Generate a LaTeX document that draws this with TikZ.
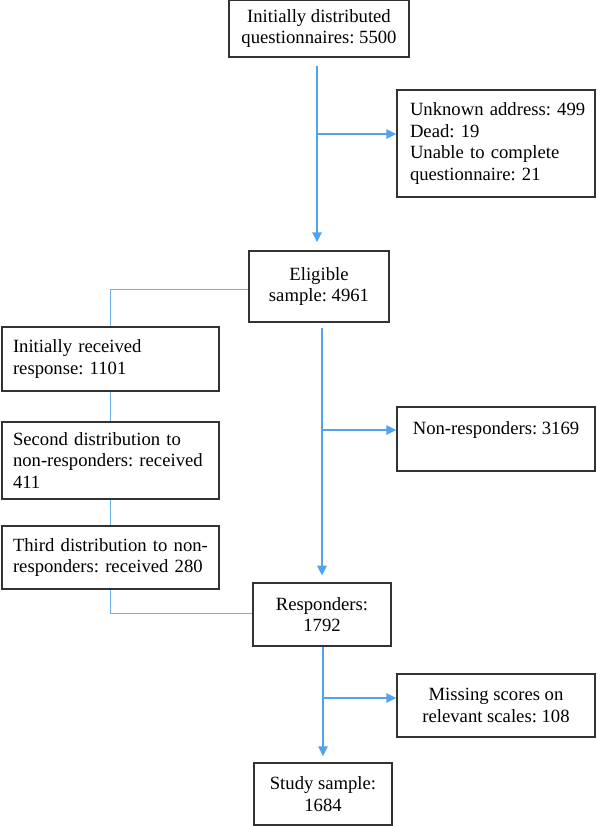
\documentclass[tikz,border=0pt]{standalone}
\usepackage{fontspec}
\setmainfont{Liberation Serif}
\usetikzlibrary{arrows.meta,calc}
\definecolor{arrblue}{RGB}{80,163,236}
\definecolor{lineblue}{RGB}{110,175,228}
\definecolor{boxgray}{RGB}{50,50,50}
\frenchspacing
\begin{document}
\frenchspacing
\begin{tikzpicture}[x=0.75pt,y=-0.75pt,
  box/.style={draw=boxgray,line width=1.1pt,font=\fontsize{14pt}{16.3pt}\selectfont,inner ysep=0pt},
  cbox/.style={box,align=center,inner xsep=2pt},
  lbox/.style={box,align=left,inner xsep=7.5pt,text width=#1},
  arr/.style={draw=arrblue,line width=1.6pt,-{Triangle[length=7.5pt,width=7pt]}},
  conn/.style={draw=lineblue,line width=0.8pt},
  ]
\useasboundingbox (0,0) rectangle (597,826);
% boxes
\node[cbox,minimum width=135pt,minimum height=42.75pt] (B1) at (319,28.5)
  {Initially distributed\\questionnaires: 5500};
\node[lbox=129pt,inner xsep=9.75pt,minimum width=148.5pt,minimum height=80.25pt] (Unk) at (496,143.5)
  {\mbox{Unknown address: 499}\\Dead: 19\\Unable to complete\\questionnaire: 21};
\node[cbox,minimum width=105pt,minimum height=53.25pt] (Elig) at (319,286.5)
  {Eligible\\sample: 4961};
\node[lbox=146.25pt,inner xsep=8.25pt,minimum width=162.75pt,minimum height=48pt] (Init) at (110.5,359)
  {Initially received\\response: 1101};
\node[lbox=146.25pt,inner xsep=8.25pt,minimum width=162.75pt,minimum height=57.75pt] (Sec) at (110.5,460.5)
  {Second distribution to\\non-responders: received\\411};
\node[lbox=146.25pt,inner xsep=8.25pt,minimum width=162.75pt,minimum height=47.25pt] (Third) at (110.5,557.5)
  {Third distribution to non-\\responders: received 280};
\node[cbox,minimum width=148.5pt,minimum height=48pt] (NonR) at (496,439)
  {Non-responders: 3169\\\mbox{}};
\node[cbox,minimum width=103.5pt,minimum height=47.25pt] (Resp) at (322,614.5)
  {Responders:\\1792};
\node[cbox,minimum width=148.5pt,minimum height=47.25pt] (Miss) at (496,705.5)
  {Missing scores on\\relevant scales: 108};
\node[cbox,minimum width=103.5pt,minimum height=46.5pt] (Study) at (323,794)
  {Study sample:\\1684};
% junction points
\coordinate (j1) at (317,134);
\coordinate (j2) at (322,430);
\coordinate (j3) at (323,698);
% main arrows
\draw[arr,shorten <=6pt,shorten >=6pt] ([xshift=-1.5pt]B1.south) -- ([xshift=-1.5pt]Elig.north);
\draw[arr] (j1) -- (j1 -| Unk.west);
\draw[arr,shorten <=4pt,shorten >=5pt] (Elig.south -| Resp.north) -- (Resp.north);
\draw[arr] (j2) -- (j2 -| NonR.west);
\draw[arr,shorten >=4.5pt] (Resp.south -| Study.north) -- (Study.north);
\draw[arr] (j3) -- (j3 -| Miss.west);
% thin connectors
\draw[conn] ([yshift=-2pt]Elig.west) -| (Init.north);
\draw[conn] (Init.south) -- (Sec.north);
\draw[conn] (Sec.south) -- (Third.north);
\draw[conn] (Third.south) |- ([yshift=1pt]Resp.west);
\end{tikzpicture}
\end{document}
